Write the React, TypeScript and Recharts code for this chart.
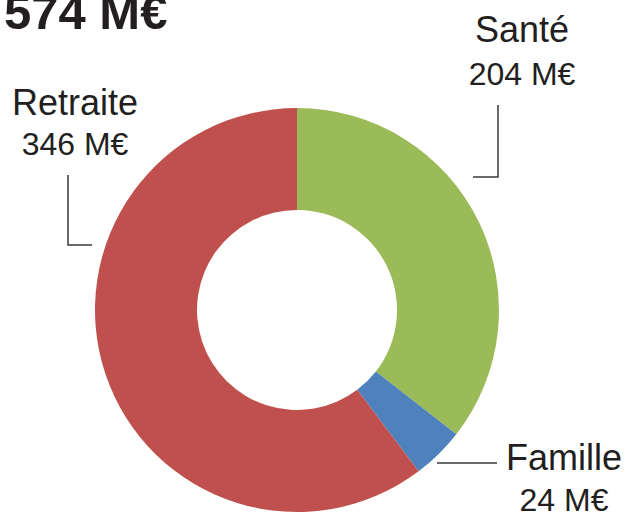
import { PieChart, Pie, Cell } from 'recharts'

const categories = ['Santé', 'Famille', 'Retraite']
const values = [204, 24, 346]
const valueLabels = ['204 M€', '24 M€', '346 M€']
const total = '574 M€'

const colors = ['#9BBB59', '#4F81BD', '#C0504D']

// label placement, offsets from the pie centre
const labelLayout = [
  { line: [[176, -133], [201, -133], [201, -205]], name: [225, -268], value: [225, -225] },
  { line: [[140, 153], [200, 153]], name: [267, 160], value: [267, 201] },
  { line: [[-205, -65], [-229, -65], [-229, -135]], name: [-222, -195], value: [-222, -155] },
]

const data = categories.map((c, i) => ({ name: c, value: values[i], label: valueLabels[i] }))

const font = '"Liberation Sans", Arial, Helvetica, sans-serif'

const renderLabel = (p: any) => {
  const { cx, cy, index } = p
  const l = labelLayout[index]
  const pts = l.line.map(([x, y]) => `${cx + x},${cy + y}`).join(' ')
  return (
    <g key={`lbl-${index}`}>
      <polyline points={pts} fill="none" stroke="#3a3a3a" strokeWidth={1.5} />
      <text x={cx + l.name[0]} y={cy + l.name[1]} textAnchor="middle" fontSize={36} fill="#231f20" fontFamily={font}>
        {data[index].name}
      </text>
      <text x={cx + l.value[0]} y={cy + l.value[1]} textAnchor="middle" fontSize={32} fill="#231f20" fontFamily={font}>
        {data[index].label}
      </text>
    </g>
  )
}

export default function App() {
  return (
    <div style={{ position: 'fixed', left: 0, top: 0, width: 627, height: 516, background: '#fff' }}>
      <PieChart width={627} height={516} margin={{ top: 0, right: 0, bottom: 0, left: 0 }}>
        <text x={4} y={29} fontSize={49} fontWeight="bold" fill="#231f20" fontFamily={font}>{total}</text>
        <Pie
          data={data}
          dataKey="value"
          nameKey="name"
          cx={297}
          cy={310}
          innerRadius={100}
          outerRadius={202}
          startAngle={90}
          endAngle={-270}
          stroke="none"
          label={renderLabel}
          labelLine={false}
          isAnimationActive={false}
        >
          {data.map((d, i) => <Cell key={d.name} fill={colors[i]} />)}
        </Pie>
      </PieChart>
    </div>
  )
}
